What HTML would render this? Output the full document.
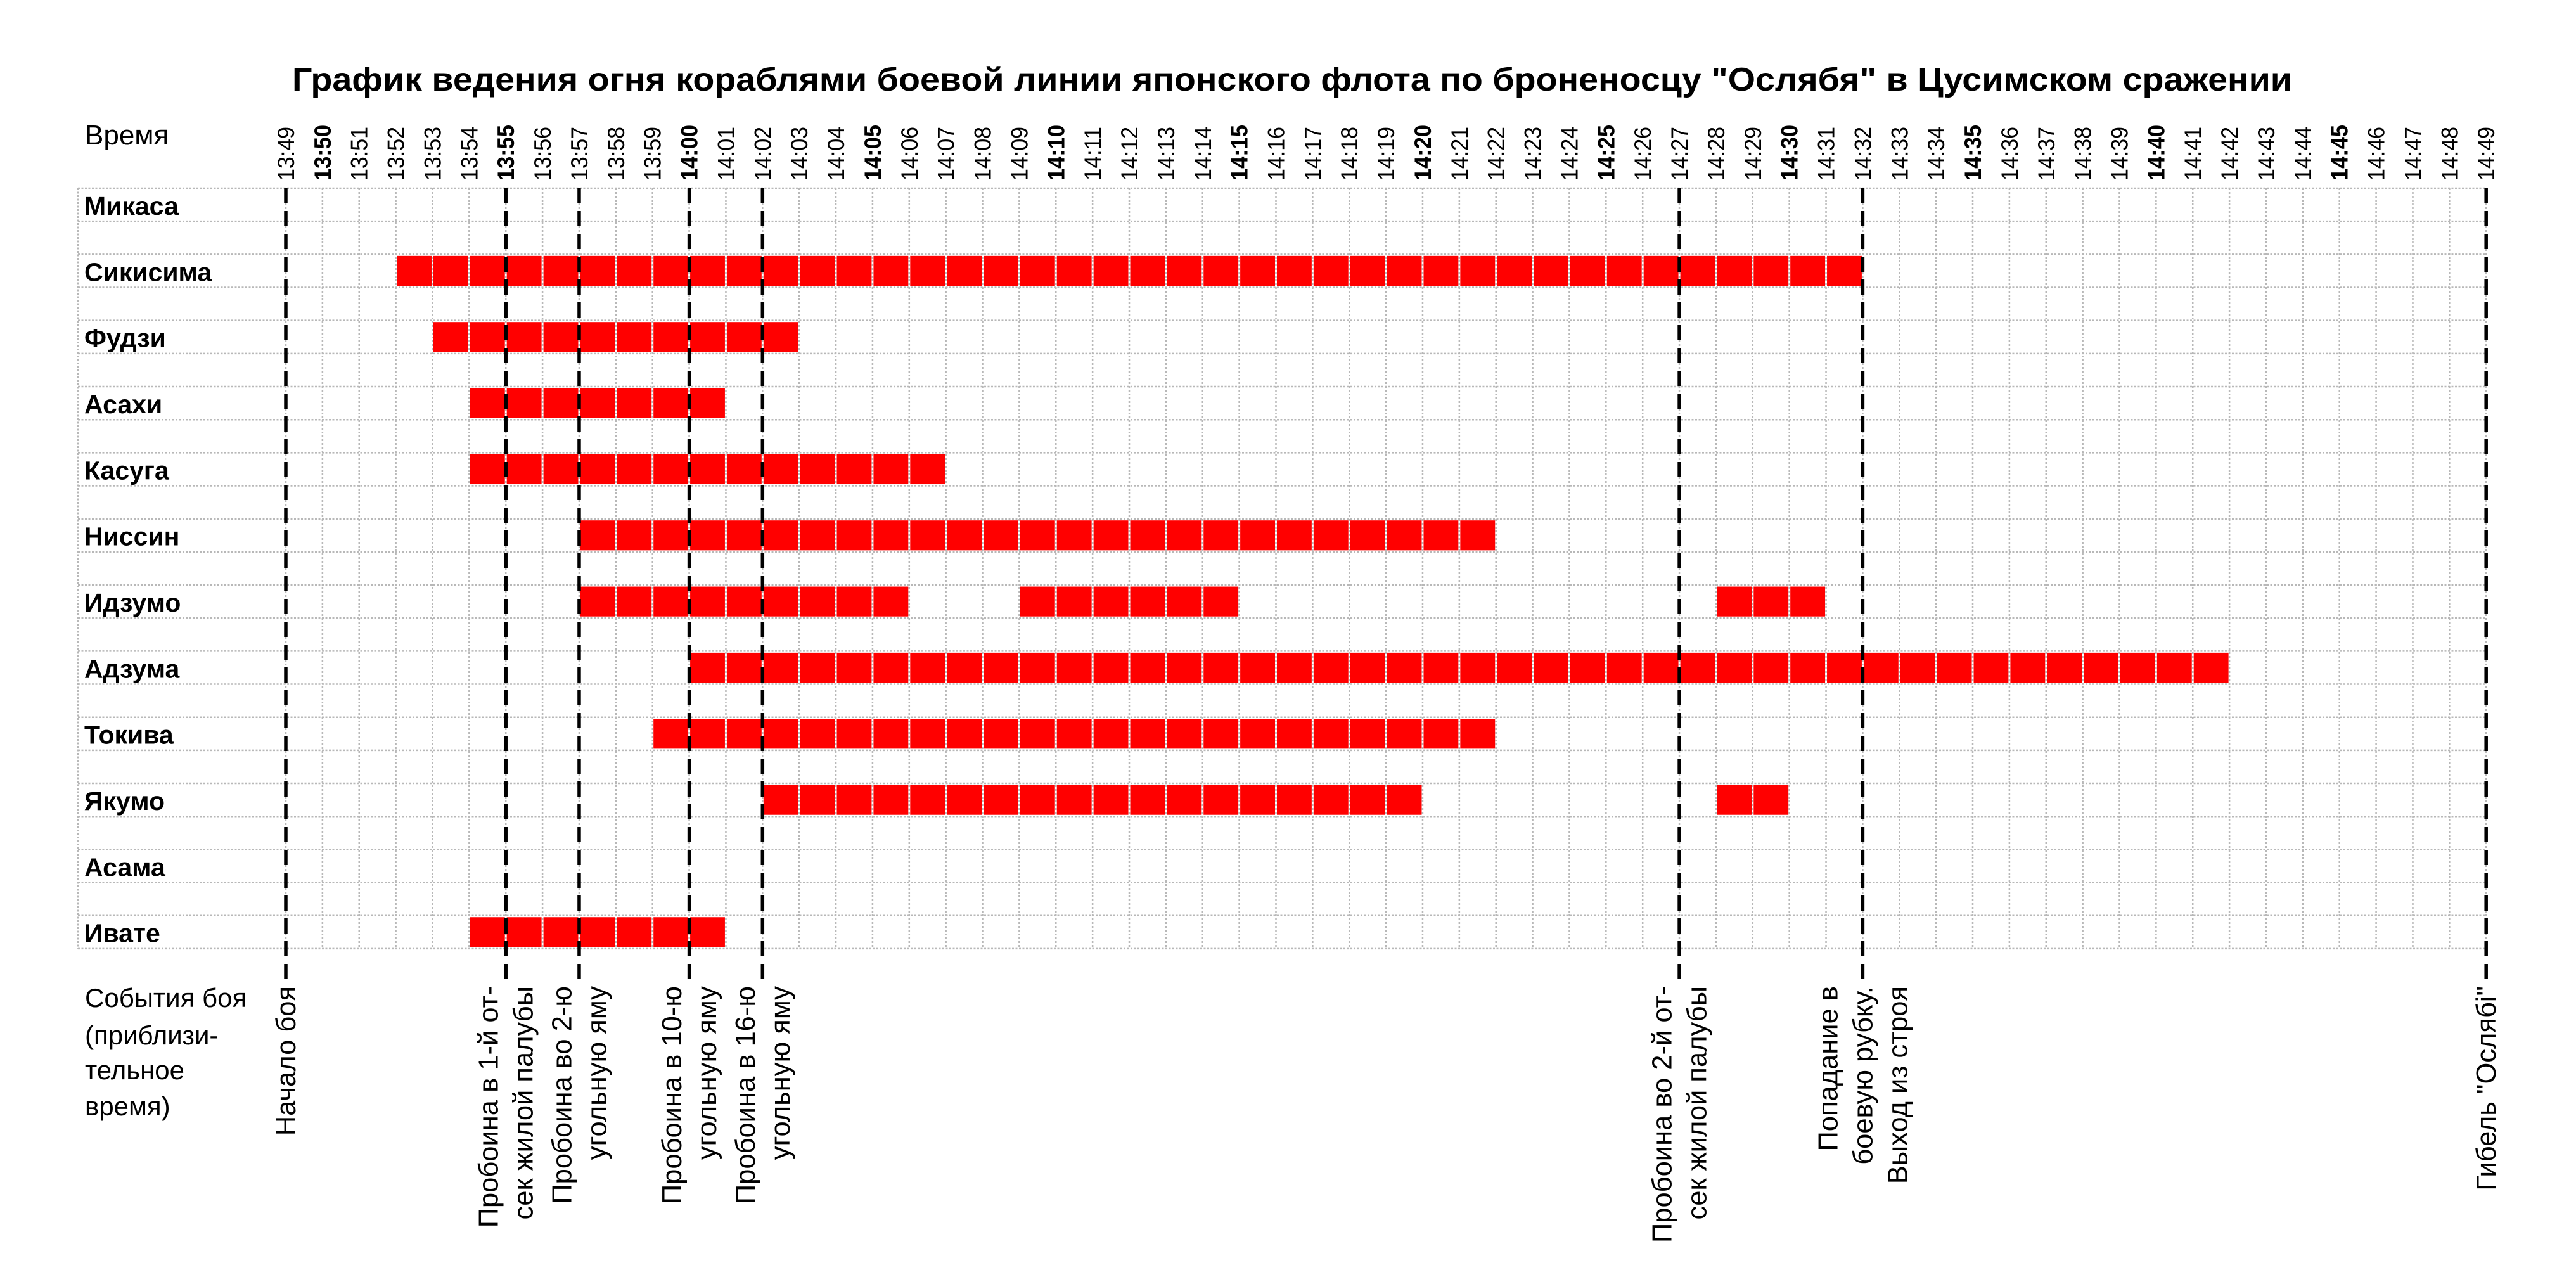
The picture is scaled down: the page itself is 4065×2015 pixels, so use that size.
<!DOCTYPE html>
<html><head><meta charset="utf-8"><style>
html,body{margin:0;padding:0;background:#fff;}
svg{display:block;}
text{font-family:"Liberation Sans",Arial,sans-serif;fill:#000;}
</style></head><body>
<svg id="chart" width="4065" height="2015" viewBox="0 0 4065 2015" xmlns="http://www.w3.org/2000/svg">
<rect x="0" y="0" width="4065" height="2015" fill="#fff"/>
<text id="title" x="461" y="143" font-size="52" font-weight="bold" textLength="3156" lengthAdjust="spacingAndGlyphs">График ведения огня кораблями боевой линии японского флота по броненосцу "Ослябя" в Цусимском сражении</text>
<text x="134" y="228" font-size="44">Время</text>
<g font-size="42">
<text x="134" y="1589">События боя</text>
<text x="134" y="1648">(приблизи-</text>
<text x="134" y="1703">тельное</text>
<text x="134" y="1760">время)</text>
</g>
<g id="grid"></g>
<g id="bars"></g>
<g id="events"></g>
<g id="ticks"></g>
<g id="ships"></g>
</svg>
<script>
const tickLabels = ["13:49","13:50","13:51","13:52","13:53","13:54","13:55","13:56","13:57","13:58","13:59",
"14:00","14:01","14:02","14:03","14:04","14:05","14:06","14:07","14:08","14:09","14:10","14:11","14:12","14:13","14:14",
"14:15","14:16","14:17","14:18","14:19","14:20","14:21","14:22","14:23","14:24","14:25","14:26","14:27","14:28","14:29",
"14:30","14:31","14:32","14:33","14:34","14:35","14:36","14:37","14:38","14:39","14:40","14:41","14:42","14:43","14:44",
"14:45","14:46","14:47","14:48","14:49"];
const boldTicks = ["13:50","13:55","14:00","14:05","14:10","14:15","14:20","14:25","14:30","14:35","14:40","14:45"];
const shipNames = ["Микаса","Сикисима","Фудзи","Асахи","Касуга","Ниссин","Идзумо","Адзума","Токива","Якумо","Асама","Ивате"];
// firing intervals as [start, end) in time labels
const fireIntervals = [
  [],
  [["13:52","14:32"]],
  [["13:53","14:03"]],
  [["13:54","14:01"]],
  [["13:54","14:07"]],
  [["13:57","14:22"]],
  [["13:57","14:06"],["14:09","14:15"],["14:28","14:31"]],
  [["14:00","14:42"]],
  [["13:59","14:22"]],
  [["14:02","14:20"],["14:28","14:30"]],
  [],
  [["13:54","14:01"]]
];
const eventTimes = ["13:49","13:55","13:57","14:00","14:02","14:27","14:32","14:49"];
const eventLabels = [
  ["Начало боя"],
  ["Пробоина в 1-й от-","сек жилой палубы"],
  ["Пробоина во 2-ю","угольную яму"],
  ["Пробоина в 10-ю","угольную яму"],
  ["Пробоина в 16-ю","угольную яму"],
  ["Пробоина во 2-й от-","сек жилой палубы"],
  ["Попадание в","боевую рубку.","Выход из строя"],
  ["Гибель \"Ослябі\""]
];

const NS = "http://www.w3.org/2000/svg";
const X0 = 451, STEP = 57.87, GRID_TOP = 297, HALF = 52.17, GRID_LEFT = 123;
const idx = t => tickLabels.indexOf(t);
const xScale = t => X0 + STEP * idx(t);
const rowTop = i => GRID_TOP + 2 * HALF * i;
const GRID_BOTTOM = GRID_TOP + HALF * (shipNames.length * 2 - 1);
const GRID_RIGHT = xScale(tickLabels[tickLabels.length - 1]);
function mk(tag, attrs, parent) {
  const e = document.createElementNS(NS, tag);
  for (const k in attrs) e.setAttribute(k, attrs[k]);
  parent.appendChild(e);
  return e;
}
const grid = document.getElementById('grid');
for (let k = 0; k < shipNames.length * 2; k++) {
  const y = GRID_TOP + HALF * k;
  const l = mk('line', {x1: GRID_LEFT, x2: GRID_RIGHT, y1: y, y2: y, stroke: '#b8b8b8', 'stroke-width': 2.5, 'stroke-dasharray': '3 2.5'}, grid);
  
  
}
{
  const l = mk('line', {x1: GRID_LEFT, x2: GRID_LEFT, y1: GRID_TOP, y2: GRID_BOTTOM, stroke: '#b8b8b8', 'stroke-width': 2.5, 'stroke-dasharray': '3 2.5'}, grid);
  
  
}
tickLabels.forEach(t => {
  const x = xScale(t);
  const l = mk('line', {x1: x, x2: x, y1: GRID_TOP, y2: GRID_BOTTOM, stroke: '#b8b8b8', 'stroke-width': 2.5, 'stroke-dasharray': '3 3'}, grid);
  
  
});
const bars = document.getElementById('bars');
fireIntervals.forEach((ivs, i) => {
  ivs.forEach(iv => {
    for (let m = idx(iv[0]); m < idx(iv[1]); m++) {
      const x = xScale(tickLabels[m]);
      const r = mk('rect', {x: x + 1.5, y: rowTop(i) + 2.5, width: STEP - 3, height: HALF - 5, fill: '#ff0000'}, bars);
      
      
    }
  });
});
const ev = document.getElementById('events');
eventTimes.forEach((t, j) => {
  const x = xScale(t);
  const l = mk('line', {x1: x, x2: x, y1: GRID_TOP, y2: 1548, stroke: '#000', 'stroke-width': 5.5, 'stroke-dasharray': '24 12'}, ev);
  
  
});
const evTexts = [];
eventTimes.forEach((t, j) => {
  const x = xScale(t);
  const lines = eventLabels[j];
  const n = lines.length;
  lines.forEach((s, q) => {
    const cx = x + (q - (n - 1) / 2) * 55;
    const bx = cx + 15;
    const tx = mk('text', {x: 0, y: 0, 'font-size': 44, 'text-anchor': 'end', transform: `translate(${bx},1556) rotate(-90)`}, ev);
    tx.textContent = s;
    
    
    evTexts.push(tx);
  });
});
(function () {
  const ref = evTexts.find(e => e.textContent === "Пробоина во 2-й от-");
  const k = ref ? 405 / ref.getComputedTextLength() : 0.9;
  evTexts.forEach(e => {
    const L = e.getComputedTextLength();
    e.setAttribute('textLength', (L * k).toFixed(1));
    e.setAttribute('lengthAdjust', 'spacingAndGlyphs');
  });
})();
const ticks = document.getElementById('ticks');
tickLabels.forEach(t => {
  const x = xScale(t);
  const b = boldTicks.includes(t);
  const tx = mk('text', {x: 0, y: 0, 'font-size': 37, 'font-weight': b ? 'bold' : 'normal', textLength: b ? 88 : 85, lengthAdjust: 'spacingAndGlyphs', transform: `translate(${x + 13},285) rotate(-90)`}, ticks);
  tx.textContent = t;
  
  
});
const ships = document.getElementById('ships');
shipNames.forEach((s, i) => {
  const tx = mk('text', {x: 133, y: rowTop(i) + 42, 'font-size': 41, 'font-weight': 'bold'}, ships);
  tx.textContent = s;
  
  
});
</script>
</body></html>
